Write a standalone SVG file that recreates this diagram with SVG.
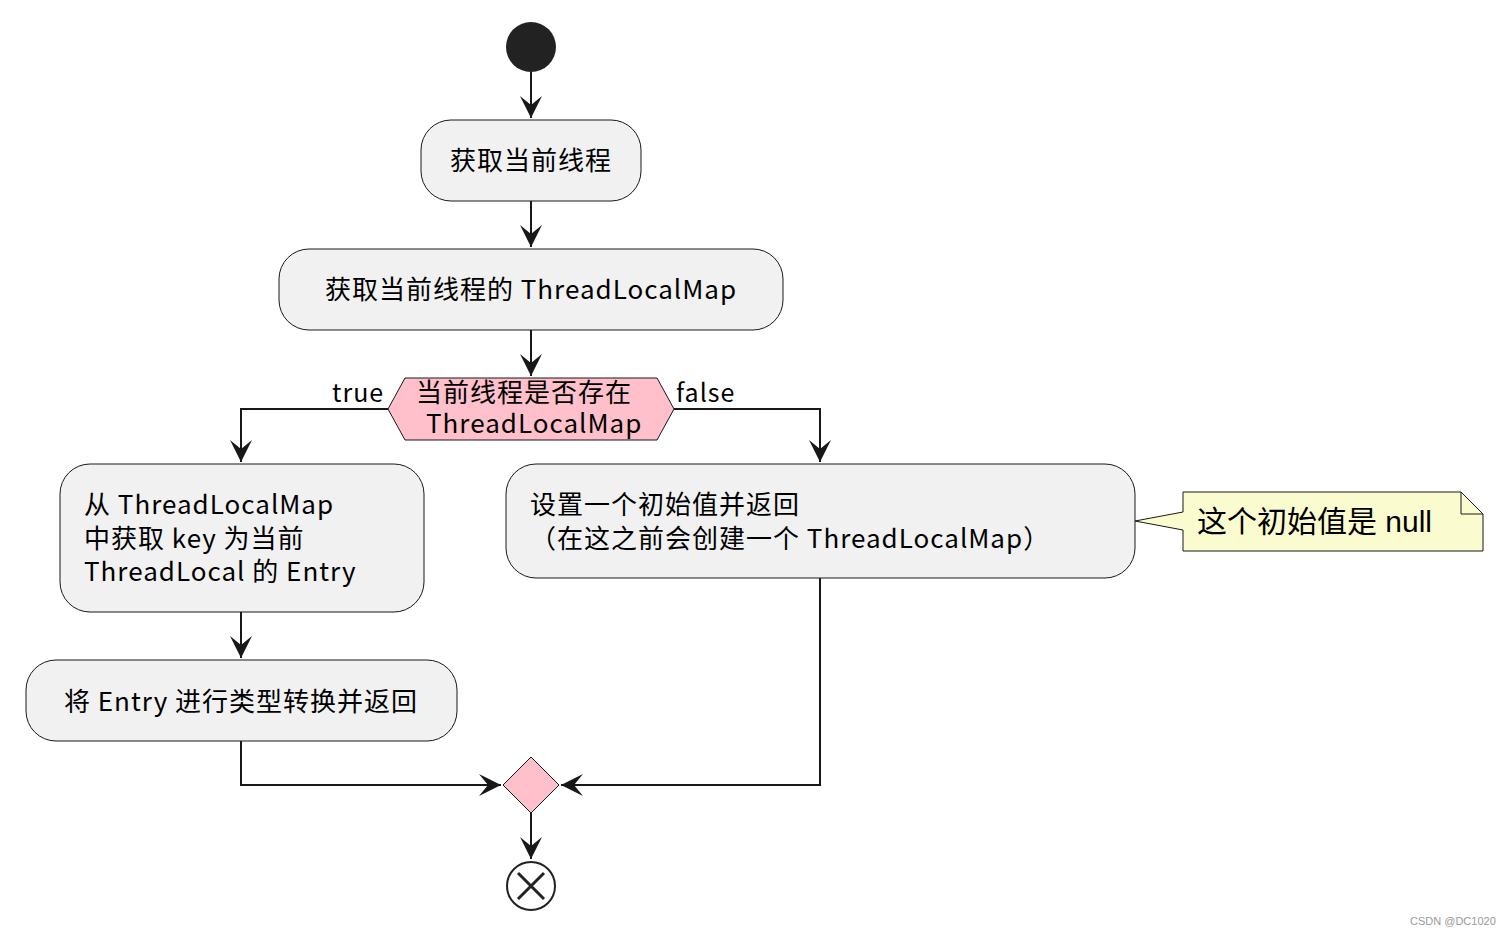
<svg xmlns="http://www.w3.org/2000/svg" width="1512" height="935" viewBox="0 0 1512 935">
<style>
text{font-family:"Noto Sans CJK SC","Noto Sans",sans-serif;font-size:26px;letter-spacing:1px;fill:#000}
.box{fill:#f1f1f1;stroke:#181818;stroke-width:1}
.ln{fill:none;stroke:#181818;stroke-width:2}
.lbl{font-size:25px}
</style>
<defs>
<marker id="b" viewBox="0 0 24 24" markerWidth="24" markerHeight="24" refX="22" refY="12" orient="auto" markerUnits="userSpaceOnUse"><path d="M0,1 L22,12 L0,23 L9,12 z" fill="#181818"/></marker></defs>
<rect width="1512" height="935" fill="#fff"/>
<g id="connectors">
<path class="ln" d="M531,72 V118" marker-end="url(#b)"/>
<path class="ln" d="M531,201 V247" marker-end="url(#b)"/>
<path class="ln" d="M531,330 V376" marker-end="url(#b)"/>
<path class="ln" d="M388,409 H241 V462" marker-end="url(#b)"/>
<path class="ln" d="M674,409 H820 V462" marker-end="url(#b)"/>
<path class="ln" d="M241,612 V658" marker-end="url(#b)"/>
<path class="ln" d="M241,741 V785 H501" marker-end="url(#b)"/>
<path class="ln" d="M820,578 V785 H561" marker-end="url(#b)"/>
<path class="ln" d="M531,813 V859" marker-end="url(#b)"/>
<text class="lbl" x="332" y="402">true</text>
<text class="lbl" x="676" y="402">false</text>
</g>
<g id="start"><circle cx="531" cy="47" r="25" fill="#222"/></g>
<g id="n1"><rect class="box" x="421" y="120" width="220" height="81" rx="30"/><text x="531" y="170" text-anchor="middle">获取当前线程</text></g>
<g id="n2"><rect class="box" x="279" y="249" width="504" height="81" rx="30"/><text x="531" y="299" text-anchor="middle">获取当前线程的 ThreadLocalMap</text></g>
<g id="d1"><polygon points="388,409 405,378 657,378 674,409 657,440 405,440" fill="#ffc0cb" stroke="#181818"/><text x="416" y="402">当前线程是否存在</text><text x="426" y="433">ThreadLocalMap</text></g>
<g id="n3"><rect class="box" x="60" y="464" width="364" height="148" rx="30"/><text x="84" y="514">从 ThreadLocalMap</text><text x="84" y="548">中获取 key 为当前</text><text x="84" y="581"> ThreadLocal 的 Entry</text></g>
<g id="n4"><rect class="box" x="26" y="660" width="431" height="81" rx="30"/><text x="241" y="711" text-anchor="middle">将 Entry 进行类型转换并返回</text></g>
<g id="n5"><rect class="box" x="506" y="464" width="629" height="114" rx="30"/><text x="530" y="514">设置一个初始值并返回</text><text x="530" y="548">（在这之前会创建一个 ThreadLocalMap）</text></g>
<g id="note"><path d="M1183,492 H1461 L1483,514 V551 H1183 V530 L1135,521 L1183,512 Z" fill="#fbfbd0" stroke="#181818"/><path d="M1461,492 V514 H1483" fill="none" stroke="#181818"/><text x="1197" y="532" style="font-family:'Liberation Sans','Noto Sans CJK SC',sans-serif;font-size:30px;letter-spacing:0">这个初始值是 null</text></g>
<g id="merge"><polygon points="531,757 559,785 531,813 503,785" fill="#ffc0cb" stroke="#181818"/></g>
<g id="end"><circle cx="531" cy="886" r="24" fill="#fff" stroke="#222" stroke-width="2"/><path d="M518,873 L544,899 M544,873 L518,899" stroke="#222" stroke-width="3"/></g>
<text x="1410" y="925" style="font-size:11px;letter-spacing:0;fill:#999;font-family:'Liberation Sans',sans-serif">CSDN @DC1020</text>
</svg>
